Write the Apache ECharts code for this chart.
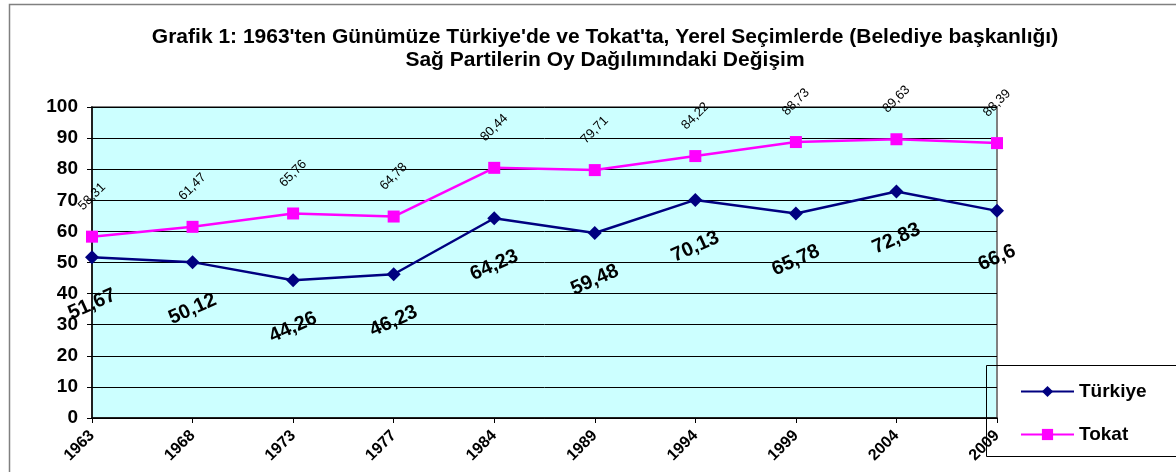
<!DOCTYPE html>
<html>
<head>
<meta charset="utf-8">
<script src="https://cdn.jsdelivr.net/npm/echarts@6/dist/echarts.min.js"></script>
<style>
  html, body { margin: 0; padding: 0; background: #fff; }
  #chart { width: 1176px; height: 472px; }
</style>
</head>
<body>
<div id="chart"></div>
<script>
// Election years (x axis)
const years = ['1963', '1968', '1973', '1977', '1984', '1989', '1994', '1999', '2004', '2009'];
// Vote share of right-wing parties, %
const turkiye = [51.67, 50.12, 44.26, 46.23, 64.23, 59.48, 70.13, 65.78, 72.83, 66.6];
const tokat = [58.31, 61.47, 65.76, 64.78, 80.44, 79.71, 84.22, 88.73, 89.63, 88.39];
const seriesNames = ['Türkiye', 'Tokat'];
const titleLines = [
  "Grafik 1: 1963'ten Günümüze Türkiye'de ve Tokat'ta, Yerel Seçimlerde (Belediye başkanlığı)",
  'Sağ Partilerin Oy Dağılımındaki Değişim'
];

const fmt = v => String(v).replace('.', ',');
const FONT = 'Liberation Sans, Arial, sans-serif';

const chart = echarts.init(document.getElementById('chart'), null, { renderer: 'canvas' });
chart.setOption({
  backgroundColor: '#ffffff',
  animation: false,
  textStyle: { fontFamily: FONT },
  title: {
    text: titleLines.join('\n'),
    left: 600,
    top: 21,
    textAlign: 'center',
    textStyle: { fontFamily: FONT, fontSize: 21, fontWeight: 'bold', color: '#000', lineHeight: 23 }
  },
  graphic: [
    // outer chart frame
    { type: 'rect', z: -10, silent: true,
      shape: { x: 9.5, y: 4.5, width: 1400, height: 1000 },
      style: { fill: 'none', stroke: '#808080', lineWidth: 1.5 } },
    // legend frame (transparent)
    { type: 'rect', z: 10, silent: true,
      shape: { x: 986.5, y: 365.5, width: 400, height: 91 },
      style: { fill: 'none', stroke: '#000000', lineWidth: 1 } }
  ],
  legend: {
    orient: 'vertical',
    left: 1015,
    top: 377,
    z: 20,
    itemWidth: 53,
    itemHeight: 14,
    itemGap: 24,
    data: seriesNames,
    textStyle: { fontFamily: FONT, fontSize: 19, fontWeight: 'bold', color: '#000' }
  },
  grid: {
    left: 92, right: 179, top: 107, bottom: 54,
    show: true, backgroundColor: '#CCFFFF', borderColor: '#808080', borderWidth: 2
  },
  xAxis: {
    type: 'category',
    data: years,
    boundaryGap: false,
    axisLine: { lineStyle: { color: '#000', width: 1.5 } },
    axisTick: { show: true, alignWithLabel: true, length: 5, lineStyle: { color: '#000' } },
    axisLabel: { rotate: 45, margin: 15, fontFamily: FONT, fontSize: 16, fontWeight: 'bold', color: '#000', interval: 0 },
    splitLine: { show: false }
  },
  yAxis: {
    type: 'value',
    min: 0, max: 100, interval: 10,
    axisLine: { show: true, lineStyle: { color: '#000', width: 1.5 } },
    axisTick: { show: true, length: 5, lineStyle: { color: '#000' } },
    axisLabel: { margin: 14, fontFamily: FONT, fontSize: 19, fontWeight: 'bold', color: '#000' },
    splitLine: { show: true, lineStyle: { color: '#000', width: 1 } }
  },
  series: [
    {
      name: seriesNames[0],
      type: 'line',
      data: turkiye,
      clip: false,
      symbol: 'diamond',
      symbolSize: 14,
      lineStyle: { color: '#000080', width: 2.5 },
      itemStyle: { color: '#000080' },
      label: {
        show: true,
        position: 'bottom',
        distance: 40,
        align: 'center',
        verticalAlign: 'middle',
        rotate: 24,
        formatter: p => fmt(p.value),
        fontFamily: FONT, fontSize: 20, fontWeight: 'bold', color: '#000'
      }
    },
    {
      name: seriesNames[1],
      type: 'line',
      data: tokat,
      clip: false,
      symbol: 'rect',
      symbolSize: 12,
      lineStyle: { color: '#FF00FF', width: 2.5 },
      itemStyle: { color: '#FF00FF' },
      label: {
        show: true,
        position: 'top',
        distance: 34,
        align: 'center',
        verticalAlign: 'middle',
        rotate: 45,
        formatter: p => fmt(p.value),
        fontFamily: FONT, fontSize: 13, color: '#000'
      }
    }
  ]
});
</script>
</body>
</html>
